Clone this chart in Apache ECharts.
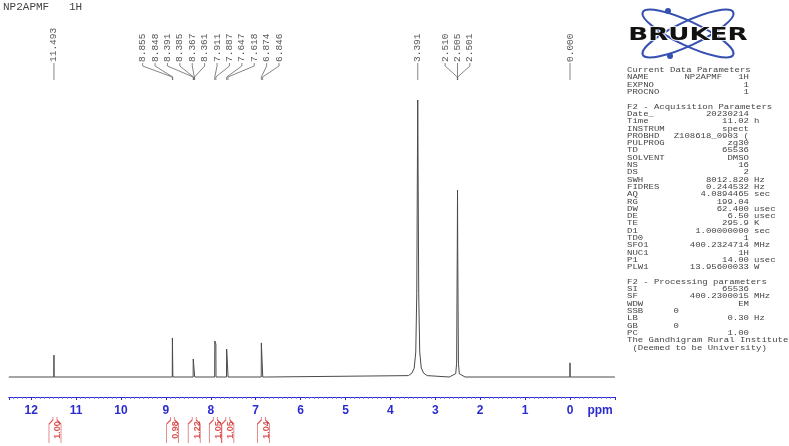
<!DOCTYPE html>
<html>
<head>
<meta charset="utf-8">
<script src="https://cdn.jsdelivr.net/npm/echarts@6/dist/echarts.min.js"></script>
<style>
  html, body { margin: 0; padding: 0; background: #fff; }
  #main { width: 789px; height: 446px; }
</style>
</head>
<body>
<div id="main"></div>
<script>
// picked lines (ppm) and their heights, water line = 100
const peakPpm = [11.493, 8.855, 8.848, 8.391, 8.385, 8.367, 8.361, 7.911, 7.887, 7.647, 7.618, 6.874, 6.846, 3.391, 2.510, 2.505, 2.501, 0.000];
const peakHeight = [7.9, 14.1, 13.6, 6.5, 6.3, 6.4, 6.1, 13.0, 11.9, 10.1, 9.8, 12.3, 11.6, 100, 48, 67.5, 47, 5.1];
// small unlabelled blips
const minorPpm = [6.752, 2.687, 2.335, 2.07];
const minorHeight = [0.5, 0.6, 0.4, 0.3];
// foot of the broad water / DMSO lines
const skirtPpm = [3.60, 3.52, 3.47, 3.435, 3.413, 3.369, 3.347, 3.312, 3.26, 3.18, 2.545, 2.525, 2.485, 2.465];
const skirtHeight = [0.5, 1.4, 3.2, 9, 30, 30, 9, 3.2, 1.4, 0.5, 1.2, 5, 5, 1.2];
// integrals
const integralPpm = [11.47, 8.85, 8.37, 7.90, 7.62, 6.83];
const integralValue = [1.00, 0.98, 1.22, 1.05, 1.05, 1.04];

const paramLines = [
  ['Current Data Parameters'],
  ['NAME', 'NP2APMF   1H'],
  ['EXPNO', '1'],
  ['PROCNO', '1'],
  [],
  ['F2 - Acquisition Parameters'],
  ['Date_', '20230214'],
  ['Time', '11.02', 'h'],
  ['INSTRUM', 'spect'],
  ['PROBHD', 'Z108618_0903 ('],
  ['PULPROG', 'zg30'],
  ['TD', '65536'],
  ['SOLVENT', 'DMSO'],
  ['NS', '16'],
  ['DS', '2'],
  ['SWH', '8012.820', 'Hz'],
  ['FIDRES', '0.244532', 'Hz'],
  ['AQ', '4.0894465', 'sec'],
  ['RG', '199.04'],
  ['DW', '62.400', 'usec'],
  ['DE', '6.50', 'usec'],
  ['TE', '295.9', 'K'],
  ['D1', '1.00000000', 'sec'],
  ['TD0', '1'],
  ['SFO1', '400.2324714', 'MHz'],
  ['NUC1', '1H'],
  ['P1', '14.00', 'usec'],
  ['PLW1', '13.95600033', 'W'],
  [],
  ['F2 - Processing parameters'],
  ['SI', '65536'],
  ['SF', '400.2300015', 'MHz'],
  ['WDW', 'EM'],
  ['SSB', '0', '', 'short'],
  ['LB', '0.30', 'Hz'],
  ['GB', '0', '', 'short'],
  ['PC', '1.00'],
  ['The Gandhigram Rural Institute'],
  [' (Deemed to be University)']
];

const BLUE = '#2b2bd0';
const RED = '#d42a2a';
const MONO = '"Liberation Mono", "DejaVu Sans Mono", monospace';

// build the trace: apexes + feet
const foot = 0.003;
const pts = [];
peakPpm.forEach((p, i) => pts.push({ x: p, y: peakHeight[i], apex: true }));
minorPpm.forEach((p, i) => pts.push({ x: p, y: minorHeight[i], apex: true }));
skirtPpm.forEach((p, i) => pts.push({ x: p, y: skirtHeight[i], apex: false }));
pts.sort((a, b) => b.x - a.x);
const trace = [[12.5, 0]];
pts.forEach((pt, i) => {
  const prev = pts[i - 1], next = pts[i + 1];
  if (pt.apex && (!prev || prev.x - pt.x > 0.03)) trace.push([pt.x + foot, 0]);
  trace.push([pt.x, pt.y]);
  if (pt.apex && (!next || pt.x - next.x > 0.03)) trace.push([pt.x - foot, 0]);
});
trace.push([-1, 0]);

const chart = echarts.init(document.getElementById('main'));

const gridL = 8.75, gridR = 174.1;
chart.setOption({
  animation: false,
  grid: [
    { left: gridL, right: gridR, top: 98, bottom: 49 },
    { left: gridL, right: gridR, top: 417, bottom: 3 }
  ],
  xAxis: [{
    gridIndex: 0, type: 'value', inverse: true, min: -1, max: 12.5, interval: 1,
    axisLine: { onZero: false, lineStyle: { color: BLUE, width: 1 } },
    axisTick: { length: 3, lineStyle: { color: BLUE } },
    minorTick: { show: true, splitNumber: 10, length: 2, lineStyle: { color: '#6f6fe0', width: 0.8 } },
    splitLine: { show: false },
    axisLabel: {
      color: BLUE, fontWeight: 'bold', fontSize: 12, fontFamily: '"Liberation Sans", Arial', margin: 8,
      formatter: v => (v < 0 || v % 1 !== 0) ? '' : String(v)
    }
  }, {
    gridIndex: 1, type: 'value', inverse: true, min: -1, max: 12.5, show: false
  }],
  yAxis: [
    { gridIndex: 0, type: 'value', min: -7.22, max: 100.72, show: false },
    { gridIndex: 1, type: 'value', min: 0, max: 1, show: false }
  ],
  series: [{
    type: 'line', xAxisIndex: 0, yAxisIndex: 0, data: trace,
    showSymbol: false, symbol: 'none', silent: true,
    lineStyle: { color: '#4a4a4a', width: 1 }
  }, {
    type: 'scatter', xAxisIndex: 1, yAxisIndex: 1, silent: true, clip: false,
    data: integralPpm.map((p, i) => [p, 0.5, integralValue[i]]),
    symbol: 'path://M4,0 L4,3 L0,7 L0,26 M8,0 L8,3 L12,7 L12,26',
    symbolSize: [12, 26],
    itemStyle: { color: 'none', borderColor: RED, borderWidth: 1 },
    label: {
      show: true, position: 'inside', rotate: 90, offset: [0, 3],
      formatter: p => p.value[2].toFixed(2),
      color: RED, fontSize: 9, fontWeight: 'bold', fontFamily: '"Liberation Sans", Arial'
    }
  }]
});

// spread peak labels so they don't overlap
function spreadLabels(xs, gap) {
  let groups = xs.map(x => ({ n: 1, sum: x }));
  let merged = true;
  while (merged) {
    merged = false;
    for (let i = 0; i < groups.length - 1; i++) {
      const a = groups[i], b = groups[i + 1];
      const aEnd = a.sum / a.n + (a.n - 1) / 2 * gap;
      const bStart = b.sum / b.n - (b.n - 1) / 2 * gap;
      if (bStart - aEnd < gap) {
        groups.splice(i, 2, { n: a.n + b.n, sum: a.sum + b.sum });
        merged = true;
        break;
      }
    }
  }
  const out = [];
  groups.forEach(g => {
    const c = g.sum / g.n;
    for (let k = 0; k < g.n; k++) out.push(c + (k - (g.n - 1) / 2) * gap);
  });
  return out;
}

const peakX = peakPpm.map(p => chart.convertToPixel({ xAxisIndex: 0 }, p));
const labelX = spreadLabels(peakX, 12.4);
const graphics = [];
peakPpm.forEach((p, i) => {
  const lx = labelX[i], px = peakX[i];
  graphics.push({
    type: 'text', x: lx, y: 62, rotation: Math.PI / 2,
    style: { text: p.toFixed(3), font: '9.5px ' + MONO, fill: '#555',
      align: 'left', textAlign: 'left', verticalAlign: 'middle', textVerticalAlign: 'middle' }
  });
  graphics.push({
    type: 'polyline',
    shape: { points: [[lx, 63], [lx, 66], [px, 77], [px, 80]] },
    style: { fill: 'none', stroke: '#666', lineWidth: 0.8 }
  });
});

// title
graphics.push({
  type: 'text', x: 3, y: 7,
  style: { text: 'NP2APMF   1H', font: '11px ' + MONO, fill: '#444',
    align: 'left', textAlign: 'left', verticalAlign: 'middle', textVerticalAlign: 'middle' }
});

// ppm unit
graphics.push({
  type: 'text', x: chart.convertToPixel({ xAxisIndex: 0 }, -0.67), y: 411,
  style: { text: 'ppm', font: 'bold 12px "Liberation Sans", Arial', fill: BLUE,
    align: 'center', textAlign: 'center', verticalAlign: 'middle', textVerticalAlign: 'middle' }
});

// parameter panel
paramLines.forEach((row, i) => {
  const y = 70 + i * 7.3;
  const base = { font: '8px ' + MONO, fill: '#444', verticalAlign: 'middle', textVerticalAlign: 'middle' };
  if (row.length === 0) return;
  graphics.push({ type: 'text', x: 627, y, scaleX: 1.12, style: Object.assign({ text: row[0], align: 'left', textAlign: 'left' }, base) });
  if (row[1] !== undefined) {
    const vx = row[3] === 'short' ? 679 : 749;
    graphics.push({ type: 'text', x: vx, y, scaleX: 1.12, style: Object.assign({ text: row[1], align: 'right', textAlign: 'right' }, base) });
  }
  if (row[2]) {
    graphics.push({ type: 'text', x: 754, y, scaleX: 1.12, style: Object.assign({ text: row[2], align: 'left', textAlign: 'left' }, base) });
  }
});

// logo
const logoBlue = '#3550b0';
graphics.push({ type: 'ellipse', x: 688, y: 33.5, rotation: 0.44, shape: { cx: 0, cy: 0, rx: 50, ry: 12 },
  style: { fill: 'none', stroke: logoBlue, lineWidth: 2 } });
graphics.push({ type: 'ellipse', x: 688, y: 33.5, rotation: -0.44, shape: { cx: 0, cy: 0, rx: 50, ry: 12 },
  style: { fill: 'none', stroke: logoBlue, lineWidth: 2 } });
graphics.push({ type: 'circle', shape: { cx: 668, cy: 11, r: 3 }, style: { fill: logoBlue } });
graphics.push({ type: 'circle', shape: { cx: 670, cy: 56, r: 3 }, style: { fill: logoBlue } });
graphics.push({
  type: 'text', x: 688, y: 35, scaleX: 1.45, z: 10,
  style: { text: 'BRUKER', font: 'bold 18px "DejaVu Sans", Arial', fill: '#111', stroke: '#fff', lineWidth: 1.5,
    align: 'center', textAlign: 'center', verticalAlign: 'middle', textVerticalAlign: 'middle' }
});

chart.setOption({ graphic: { elements: graphics } });
</script>
</body>
</html>
